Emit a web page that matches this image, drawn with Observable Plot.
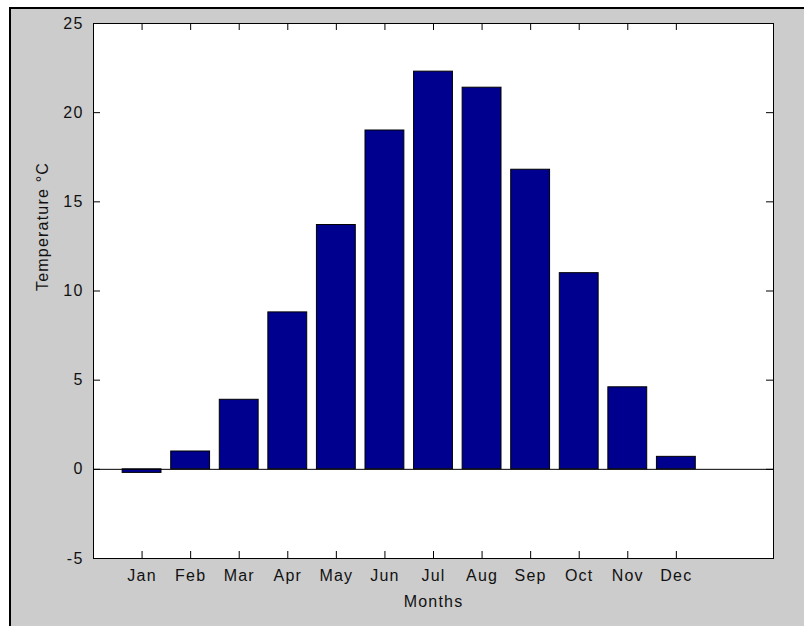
<!DOCTYPE html>
<html>
<head>
<meta charset="utf-8">
<script src="https://cdn.jsdelivr.net/npm/d3@7"></script>
<script src="https://cdn.jsdelivr.net/npm/@observablehq/plot@0.6"></script>
<style>
  html, body { margin: 0; padding: 0; background: #ffffff; }
  #wrap { position: relative; width: 804px; height: 626px; overflow: hidden; background: #ffffff; }
  #bg { position: absolute; left: 9px; top: 7px; width: 800px; height: 630px; background: #cccccc;
        border-top: 2px solid #000; border-left: 2px solid #000; }
  #chart { position: absolute; left: 0; top: 0; }
</style>
</head>
<body>
<div id="wrap"><div id="bg"></div><div id="chart"></div></div>
<script>
const months = ["Jan", "Feb", "Mar", "Apr", "May", "Jun", "Jul", "Aug", "Sep", "Oct", "Nov", "Dec"];
const temps = [-0.2, 1.0, 3.9, 8.8, 13.7, 19.0, 22.3, 21.4, 16.8, 11.0, 4.6, 0.7];
const yTicks = [-5, 0, 5, 10, 15, 20, 25];
const xDomain = [0, 14];
const yDomain = [-5, 25];

const monthPos = months.map((_, i) => i + 1);
const data = months.map((m, i) => ({month: m, pos: i + 1, temp: temps[i]}));

const W = 804, H = 626;
const mL = 93, mR = 31, mT = 23, mB = 68;
const innerW = W - mL - mR, innerH = H - mT - mB;
const tick = 7;
const barHalf = 0.4;

const chart = Plot.plot({
  width: W,
  height: H,
  marginLeft: mL, marginRight: mR, marginTop: mT, marginBottom: mB,
  style: {background: "transparent", fontFamily: "'Liberation Sans', Arial, sans-serif", fontSize: "16px", color: "#000", letterSpacing: "1.2px"},
  x: {type: "linear", domain: xDomain},
  y: {type: "linear", domain: yDomain},
  marks: [
    Plot.frame({fill: "white"}),
    Plot.rect(data, {x1: d => d.pos - barHalf, x2: d => d.pos + barHalf, y1: 0, y2: "temp", fill: "rgb(0,0,143)", stroke: "black", strokeWidth: 1}),
    Plot.ruleY([0], {stroke: "black", strokeWidth: 1}),
    Plot.ruleX(monthPos, {x: d => d, insetTop: innerH - tick, stroke: "black"}),
    Plot.ruleX(monthPos, {x: d => d, insetBottom: innerH - tick, stroke: "black"}),
    Plot.ruleY(yTicks, {y: d => d, insetRight: innerW - tick, stroke: "black"}),
    Plot.ruleY(yTicks, {y: d => d, insetLeft: innerW - tick, stroke: "black"}),
    Plot.frame({stroke: "black", strokeWidth: 1}),
    Plot.axisX({ticks: monthPos, tickFormat: i => months[i - 1], tickSize: 0, tickPadding: 11, label: null, fill: "#111"}),
    Plot.axisY({ticks: yTicks, tickFormat: d => String(d), tickSize: 0, tickPadding: 10, label: null, fill: "#111"}),
    Plot.text(["Months"], {text: d => d, frameAnchor: "bottom", dy: 48, fill: "#111"}),
    Plot.text(["Temperature °C"], {text: d => d, frameAnchor: "left", dx: -51, rotate: -90, fill: "#111"})
  ]
});
document.getElementById("chart").appendChild(chart);
</script>
</body>
</html>
